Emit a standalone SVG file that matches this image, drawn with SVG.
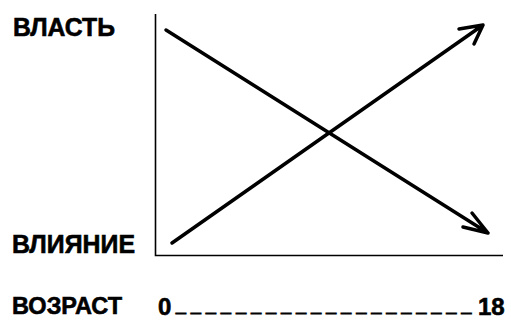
<svg xmlns="http://www.w3.org/2000/svg" width="511" height="320" viewBox="0 0 511 320">
<style>
.lbl{font-family:"Liberation Sans",Arial,sans-serif;font-weight:bold;fill:#000;stroke:#000;stroke-width:0.6}
.ax{fill:none;stroke:#000;stroke-width:1.6}
.ln{fill:none;stroke:#000;stroke-width:3.5;stroke-linecap:round;stroke-linejoin:round}
</style>
<rect width="511" height="320" fill="#fff"/>
<g id="axes">
<polyline class="ax" points="155.5,14 155.5,255.5 503,255.5"/>
</g>
<g id="labels">
<text id="vlast" class="lbl" x="13" y="36" font-size="25" textLength="102" lengthAdjust="spacingAndGlyphs">ВЛАСТЬ</text>
<text id="vliyanie" class="lbl" x="12" y="253" font-size="25" textLength="123" lengthAdjust="spacingAndGlyphs">ВЛИЯНИЕ</text>
<text id="vozrast" class="lbl" x="12" y="314" font-size="24" textLength="110" lengthAdjust="spacingAndGlyphs">ВОЗРАСТ</text>
<text id="scale" class="lbl" x="158" y="315" font-size="24">0<tspan x="176" dy="-3" font-size="17.5" stroke-width="1.3" letter-spacing="5.3">____________________</tspan><tspan x="478" dy="3" font-size="24">18</tspan></text>
</g>
<g id="connectors">
<path id="power" class="ln" d="M166,30 L488,233 M463,227 L488,233 L472,213"/>
<path id="influence" class="ln" d="M172,243 L483,25 M459,29 L483,25 L474,44"/>
</g>
</svg>
